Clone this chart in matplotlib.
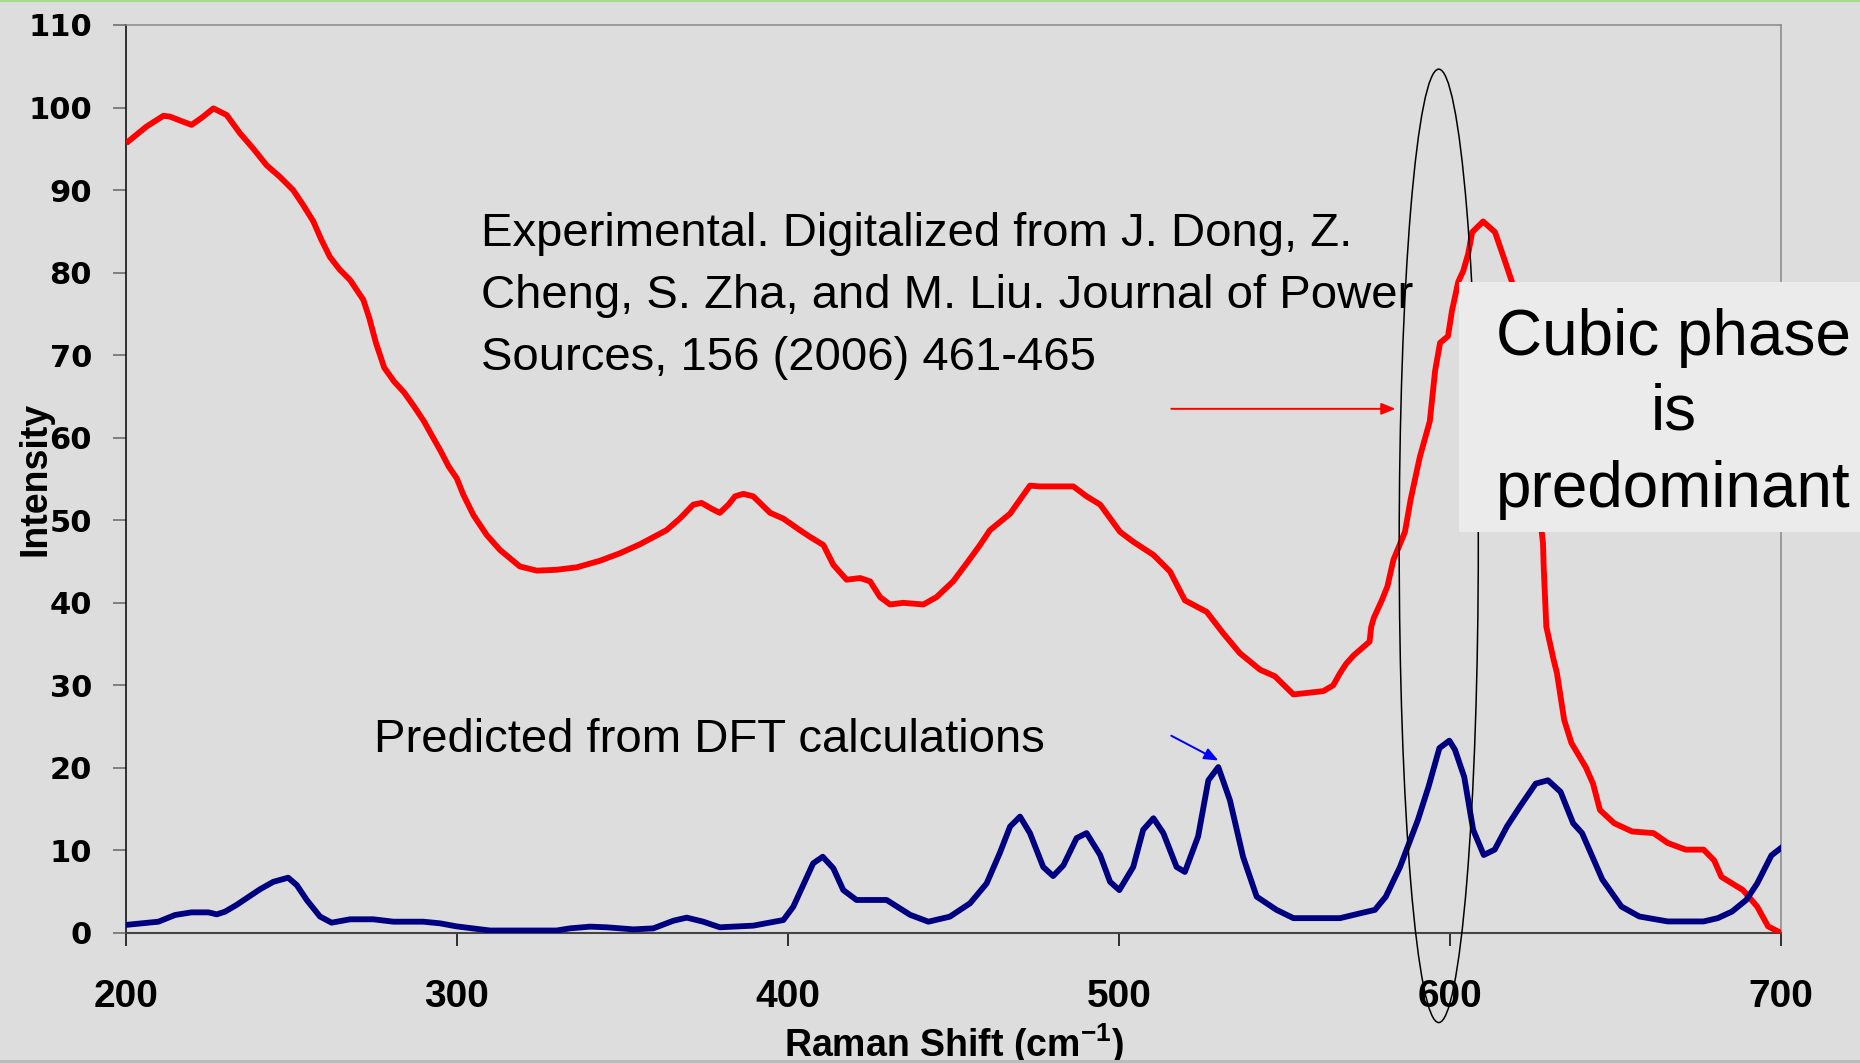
import matplotlib
matplotlib.use('Agg')
import matplotlib.pyplot as plt
from matplotlib.patches import Ellipse, Rectangle
from matplotlib.lines import Line2D

exp_x = [200.7, 206.2, 211.3, 213.3, 216.5, 219.8, 223.0, 226.4, 230.4, 234.4,
         238.5, 242.5, 246.5, 250.5, 253.5, 256.6, 259.0, 261.6, 264.5, 267.7,
         271.7, 273.5, 275.5, 278.0, 281.0, 284.0, 287.0, 290.0, 292.5, 294.9,
         297.5, 299.9, 301.9, 305.0, 309.0, 313.0, 319.0, 324.1, 330.0, 336.2,
         343.2, 349.2, 355.3, 363.3, 367.3, 371.4, 373.9, 376.9, 379.4, 382.0,
         384.0, 386.5, 389.5, 394.6, 398.6, 403.6, 406.6, 410.7, 413.7, 417.7,
         421.8, 424.8, 427.8, 430.8, 434.8, 440.9, 444.9, 449.9, 454.0, 458.0,
         461.0, 467.1, 470.1, 473.1, 476.1, 486.2, 490.2, 494.3, 500.3, 504.3,
         510.4, 515.4, 519.9, 526.5, 531.5, 536.5, 542.6, 547.1, 552.7, 561.7,
         564.7, 566.8, 568.6, 570.8, 575.7, 576.2, 577.0, 579.4, 581.1, 582.9,
         586.4, 588.1, 590.9, 593.9, 595.5, 597.0, 599.4, 600.6, 602.5, 604.0,
         605.5, 606.7, 610.0, 613.6, 616.6, 618.7, 621.5, 624.5, 628.1, 628.3,
         629.1, 631.3, 632.3, 634.5, 636.7, 641.0, 643.2, 645.3, 649.6, 655.0,
         661.5, 665.8, 671.2, 676.6, 679.8, 682.0, 688.5, 692.8, 696.1, 700.0]
exp_y = [95.9, 97.7, 99.0, 98.9, 98.4, 97.9, 98.8, 99.9, 99.1, 96.9,
         95.0, 93.0, 91.6, 90.0, 88.2, 86.2, 84.0, 81.9, 80.4, 79.1,
         76.7, 74.5, 71.5, 68.5, 66.8, 65.5, 63.8, 62.0, 60.2, 58.5,
         56.5, 55.1, 53.1, 50.6, 48.2, 46.4, 44.4, 43.9, 44.0, 44.3,
         45.1, 46.0, 47.1, 48.8, 50.2, 51.9, 52.1, 51.4, 50.9, 51.9,
         52.9, 53.2, 52.9, 50.9, 50.2, 48.8, 48.0, 47.0, 44.6, 42.8,
         43.0, 42.6, 40.7, 39.8, 40.0, 39.8, 40.7, 42.6, 44.8, 47.0,
         48.8, 50.8, 52.5, 54.2, 54.1, 54.1, 52.9, 51.9, 48.6, 47.4,
         45.8, 43.8, 40.3, 38.9, 36.3, 33.9, 31.9, 31.1, 28.9, 29.3,
         30.0, 31.5, 32.6, 33.6, 35.3, 37.1, 38.2, 40.3, 42.0, 45.2,
         48.6, 52.5, 57.7, 62.0, 68.1, 71.5, 72.3, 75.4, 78.9, 80.2,
         82.3, 84.9, 86.2, 84.9, 81.4, 78.9, 71.0, 60.0, 47.2, 44.4,
         37.1, 33.1, 31.5, 25.8, 23.0, 20.1, 18.1, 14.9, 13.3, 12.3,
         12.1, 10.9, 10.1, 10.1, 8.8, 6.8, 5.2, 3.2, 0.8, 0.0]

dft_x = [199.7, 209.8, 214.8, 219.8, 224.9, 227.4, 229.9, 233.4, 237.5, 240.5,
         244.5, 249.0, 251.6, 254.6, 258.6, 262.1, 267.7, 274.7, 280.8, 289.8,
         294.9, 299.9, 310.0, 330.1, 334.1, 340.2, 345.2, 353.3, 359.3, 365.4,
         369.4, 374.4, 379.4, 389.5, 398.6, 401.6, 407.6, 410.5, 413.7, 416.7,
         420.7, 429.8, 436.9, 442.4, 448.9, 455.0, 460.0, 464.0, 467.1, 470.1,
         473.1, 477.1, 480.1, 483.2, 487.2, 490.2, 494.3, 497.3, 500.1, 504.3,
         507.3, 510.4, 513.4, 517.4, 519.9, 523.9, 527.0, 530.0, 533.5, 537.5,
         541.6, 547.6, 552.7, 566.8, 573.0, 577.3, 580.6, 584.9, 590.3, 593.5,
         596.8, 599.8, 601.5, 604.3, 607.0, 610.2, 613.5, 617.2, 621.1, 625.9,
         629.6, 633.4, 637.2, 639.9, 646.0, 651.8, 657.2, 665.8, 676.6, 680.9,
         685.2, 689.5, 692.8, 697.1, 700.0]
dft_y = [0.97, 1.37, 2.18, 2.5, 2.5, 2.26, 2.58, 3.4, 4.5, 5.3,
         6.2, 6.7, 5.8, 4.0, 2.0, 1.25, 1.66, 1.66, 1.37, 1.37,
         1.17, 0.8, 0.3, 0.3, 0.56, 0.77, 0.69, 0.44, 0.56, 1.49,
         1.86, 1.37, 0.69, 0.89, 1.57, 3.19, 8.44, 9.24, 7.84, 5.2,
         4.0, 4.0, 2.2, 1.37, 1.98, 3.6, 6.0, 9.7, 12.9, 14.1,
         12.1, 8.0, 6.9, 8.2, 11.5, 12.1, 9.45, 6.2, 5.2, 8.0,
         12.5, 13.9, 12.1, 8.0, 7.4, 11.7, 18.5, 20.1, 16.1, 9.2,
         4.4, 2.8, 1.8, 1.8, 2.4, 2.8, 4.4, 8.0, 13.7, 17.7,
         22.4, 23.3, 22.2, 18.9, 12.5, 9.45, 10.1, 12.9, 15.3, 18.1,
         18.5, 17.1, 13.3, 12.1, 6.5, 3.2, 2.0, 1.4, 1.4, 1.8,
         2.6, 4.0, 6.0, 9.4, 10.3]

x_ticks = [200, 300, 400, 500, 600, 700]
y_ticks = list(range(0, 111, 10))

exp_note = ('Experimental. Digitalized from J. Dong, Z.\n'
            'Cheng, S. Zha, and M. Liu. Journal of Power\n'
            'Sources, 156 (2006) 461-465')
dft_note = 'Predicted from DFT calculations'
box_lines = ['Cubic phase', 'is', 'predominant']

plt.rcParams['font.family'] = 'Liberation Sans'
plt.rcParams['font.weight'] = 'bold'
plt.rcParams['mathtext.fontset'] = 'custom'
plt.rcParams['mathtext.rm'] = 'Liberation Sans:bold'
plt.rcParams['mathtext.bf'] = 'Liberation Sans:bold'
plt.rcParams['mathtext.default'] = 'bf'

BG = '#dddddd'
W, H = 1860, 1063

fig = plt.figure(figsize=(W / 100, H / 100), dpi=100, facecolor=BG)
ax = fig.add_axes([126 / W, 1 - 933 / H, (1781 - 126) / W, (933 - 25) / H])
ax.set_facecolor(BG)

ax.plot(exp_x, exp_y, color='#ff0000', linewidth=4.2, zorder=3)
ax.plot(dft_x, dft_y, color='#000080', linewidth=4.2, zorder=4)

ax.set_xlim(200, 700)
ax.set_ylim(0, 110)
ax.set_xticks(x_ticks, labels=[str(v) for v in x_ticks], fontsize=28,
              fontweight='bold')
ax.set_yticks(y_ticks, labels=[str(v) for v in y_ticks], fontsize=22,
              fontfamily='DejaVu Sans', fontweight='bold')

for side in ['top', 'right']:
    ax.spines[side].set_color('#888888')
    ax.spines[side].set_linewidth(1.1)
ax.spines['left'].set_color('black')
ax.spines['left'].set_linewidth(1.1)
ax.spines['bottom'].set_color('#444444')
ax.spines['bottom'].set_linewidth(1.5)

ax.tick_params(axis='y', direction='out', length=9.4, width=1.1, color='#666666', pad=15)
ax.tick_params(axis='x', direction='out', length=9.4, width=1.1, color='black', pad=24)

ax.set_xlabel(r'Raman Shift (cm$^{-1}$)', fontsize=27, fontweight='bold')
ax.xaxis.label.set_va('baseline')
ax.xaxis.set_label_coords(0.5, -(1057 - 933) / 908)
ax.set_ylabel('Intensity', fontsize=27, fontweight='bold')
ax.yaxis.label.set_va('baseline')
ax.yaxis.set_label_coords((45 - 126) / 1655, 0.5)

# annotations (baseline = last line for multi-line text)
ax.text(307.3, 68.2, exp_note, fontsize=34, fontweight='normal', va='baseline',
        ha='left', linespacing=1.53, zorder=6)
ax.text(274.9, 21.9, dft_note, fontsize=34, fontweight='normal', va='baseline',
        ha='left', zorder=6)
ax.annotate('', xy=(583.5, 63.5), xytext=(515.8, 63.5),
            arrowprops=dict(arrowstyle='-|>,head_length=0.6,head_width=0.25',
                            color='#ff0000', lw=1.4, mutation_scale=14, shrinkA=0, shrinkB=0),
            zorder=6)
ax.annotate('', xy=(530.0, 20.9), xytext=(515.8, 23.9),
            arrowprops=dict(arrowstyle='-|>,head_length=0.6,head_width=0.25',
                            color='#0000ff', lw=1.4, mutation_scale=14, shrinkA=0, shrinkB=0),
            zorder=6)

ax.add_patch(Ellipse((596.6, 46.9), width=23.9, height=115.5, fill=False,
                     edgecolor='black', linewidth=1.1, clip_on=False, zorder=5))

# highlight box
fig.add_artist(Rectangle((1459 / W, 1 - 532 / H), 1 - 1459 / W, 250 / H,
                         transform=fig.transFigure, facecolor='#ebebeb',
                         edgecolor='none', zorder=10))
for line, base in zip(box_lines, [355, 430, 507]):
    fig.text(1673.5 / W, 1 - base / H, line, fontsize=46, fontweight='normal',
             ha='center', va='baseline', zorder=11)

# slide edges
fig.add_artist(Line2D([0, 1], [1 - 1 / H, 1 - 1 / H], transform=fig.transFigure,
                      color='#a4dc90', linewidth=1.5, zorder=12))
fig.add_artist(Rectangle((0, 0), 1, 3 / H, transform=fig.transFigure,
                         facecolor='#bbbbbb', edgecolor='none', zorder=12))

fig.savefig('out.png', dpi=100, facecolor=BG)
